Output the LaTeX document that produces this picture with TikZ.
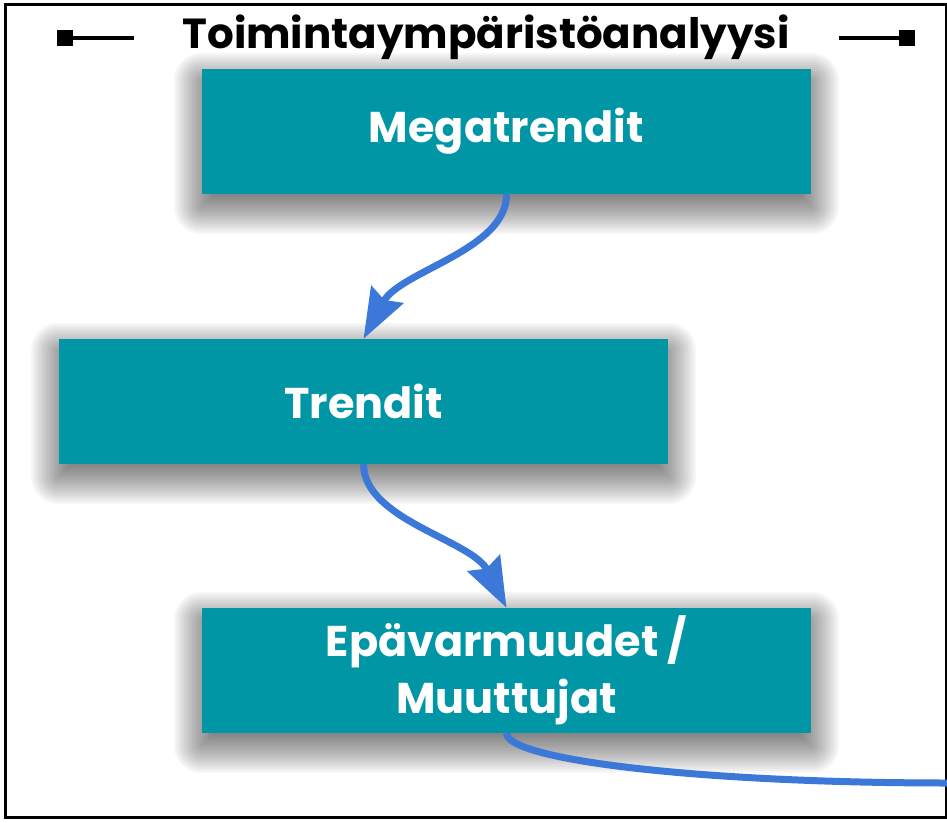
\documentclass[tikz,border=0pt]{standalone}
\usepackage{fontspec}
\setmainfont{Poppins}
\usetikzlibrary{arrows.meta}
\usetikzlibrary{positioning}

\definecolor{boxteal}{RGB}{0,150,166}
\definecolor{flowblue}{RGB}{60,120,216}

\pgfdeclarelayer{bg}
\pgfsetlayers{bg,main}

\begin{document}
\begin{tikzpicture}[x=1pt,y=-1pt]
	\tikzset{trendbox/.style = {shape=rectangle, fill=boxteal, text=white,
			minimum width=609pt, minimum height=125pt, inner sep=0pt,
			align=center, font=\bfseries\fontsize{43}{57}\selectfont}}
	\tikzset{flow/.style = {-{Stealth[length=50pt, width=36pt, inset=6pt]},
			draw=flowblue, line width=7pt}}
	\tikzset{endmark/.style = {shape=rectangle, fill=black, minimum size=16pt,
			inner sep=0pt}}
	\tikzset{markline/.style = {line width=4pt}}
	
	\useasboundingbox (0,0) rectangle (947,822);
	
	% frame
	\draw[line width=3pt] (5.5,4.5) rectangle (946.5,817.5);
	
	% title
	\node[anchor=base, font=\bfseries\fontsize{42}{48}\selectfont] (title) at (486,48) {Toimintaympäristöanalyysi};
	\node[endmark] (ml) at (65,38) {};
	\node[endmark] (mr) at (907,38) {};
	\coordinate (mle) at (134,38);
	\coordinate (mre) at (839,38);
	\draw[markline] (ml) -- (mle);
	\draw[markline] (mre) -- (mr);
	
	% boxes
	\node[trendbox] (mega) at (506.5,131.5) {Megatrendit};
	\node[trendbox] (trend) at (363.5,401.5) {Trendit};
	\node[trendbox] (epa) at (506.5,670.5) {Epävarmuudet /\\Muuttujat};
	
	% shadows
	\begin{pgfonlayer}{bg}
		\foreach \b in {mega,trend,epa}{
			\foreach \k in {0,...,20}{
				\pgfmathsetmacro{\m}{28-2*\k}
				\pgfmathsetmacro{\r}{max(\m,1)}
				\fill[black, opacity=0.032, rounded corners=\r pt]
				([xshift=-\m pt, yshift=-12pt-\m pt]\b.south west) rectangle
				([xshift=\m pt, yshift=-12pt+\m pt]\b.north east);
			}
		}
	\end{pgfonlayer}
	
	% connectors
	\coordinate (out) at (950,783);
	\draw[flow] (mega.south) .. controls (507,250) and (400,271) .. (trend.north);
	\draw[flow] (trend.south) .. controls (364,520) and (472,540) .. (epa.north);
	\draw[draw=flowblue, line width=7pt] (epa.south) .. controls (507,760) and (700,783) .. (out);
	
\end{tikzpicture}
\end{document}
